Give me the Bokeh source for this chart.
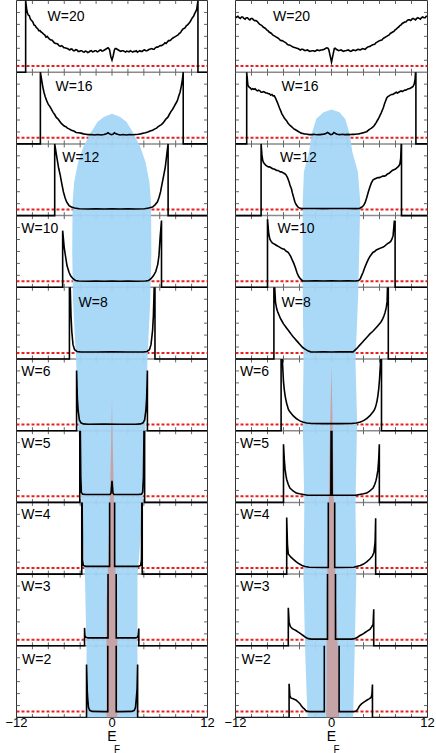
import math
from bokeh.plotting import figure
from bokeh.models import Range1d, FixedTicker, Title
from bokeh.layouts import row
from bokeh.embed import file_html
from bokeh.resources import INLINE
from bokeh.core.properties import value

# ---------------- data ----------------
W_VALUES = [20, 16, 12, 10, 8, 6, 5, 4, 3, 2]
X_TICKS = [-12, 0, 12]
X_MINOR = [-10, -8, -6, -4, -2, 0, 2, 4, 6, 8, 10]
Y_MINOR = [1/6, 2/6, 3/6, 4/6, 5/6]
RED_LEVEL = 0.085

LEFT_W20 = [(-12,0),(-10.85,0),(-10.85,1.0),(-10.7,0.86),(-10.55,0.8),(-10.4,0.79),(-10.25,0.74),(-10.1,0.72),(-9.95,0.7),(-9.8,0.66),(-9.65,0.65),(-9.5,0.62),(-9.35,0.61),(-9.2,0.58),(-9.05,0.58),(-8.9,0.56),(-8.75,0.55),(-8.6,0.53),(-8.45,0.52),(-8.3,0.49),(-8.15,0.5),(-8.0,0.48),(-7.85,0.46),(-7.7,0.45),(-7.55,0.45),(-7.4,0.43),(-7.25,0.41),(-7.1,0.40),(-6.95,0.40),(-6.8,0.39),(-6.65,0.37),(-6.5,0.36),(-6.35,0.37),(-6.2,0.36),(-6.05,0.34),(-5.9,0.34),(-5.75,0.335),(-5.6,0.33),(-5.45,0.32),(-5.3,0.31),(-5.15,0.325),(-5.0,0.32),(-4.85,0.3),(-4.7,0.30),(-4.55,0.315),(-4.4,0.31),(-4.25,0.29),(-4.1,0.29),(-3.95,0.3),(-3.8,0.30),(-3.65,0.285),(-3.5,0.28),(-3.35,0.295),(-3.2,0.29),(-3.05,0.275),(-2.9,0.28),(-2.75,0.295),(-2.6,0.30),(-2.45,0.285),(-2.3,0.29),(-2.15,0.3),(-2.0,0.30),(-1.85,0.285),(-1.7,0.29),(-1.55,0.305),(-1.4,0.31),(-1.25,0.295),(-1.1,0.30),(-0.95,0.31),(-0.8,0.32),(-0.65,0.33),(-0.5,0.34),(-0.4,0.33),(-0.3,0.31),(-0.15,0.22),(0,0.17),(0.15,0.23),(0.3,0.31),(0.4,0.33),(0.5,0.33),(0.65,0.32),(0.8,0.31),(0.95,0.3),(1.1,0.29),(1.25,0.3),(1.4,0.30),(1.55,0.29),(1.7,0.28),(1.85,0.295),(2.0,0.29),(2.15,0.285),(2.3,0.30),(2.45,0.29),(2.6,0.28),(2.75,0.29),(2.9,0.29),(3.05,0.3),(3.2,0.28),(3.35,0.29),(3.5,0.30),(3.65,0.29),(3.8,0.29),(3.95,0.305),(4.1,0.31),(4.25,0.3),(4.4,0.30),(4.55,0.31),(4.7,0.32),(4.85,0.325),(5.0,0.33),(5.15,0.32),(5.3,0.32),(5.45,0.34),(5.6,0.35),(5.75,0.35),(5.9,0.36),(6.05,0.37),(6.2,0.37),(6.35,0.38),(6.5,0.39),(6.65,0.41),(6.8,0.40),(6.95,0.42),(7.1,0.44),(7.25,0.44),(7.4,0.45),(7.55,0.47),(7.7,0.48),(7.85,0.49),(8.0,0.50),(8.15,0.51),(8.3,0.52),(8.45,0.54),(8.6,0.55),(8.75,0.58),(8.9,0.60),(9.05,0.61),(9.2,0.62),(9.35,0.65),(9.5,0.66),(9.65,0.68),(9.8,0.70),(9.95,0.73),(10.1,0.76),(10.25,0.78),(10.4,0.82),(10.55,0.85),(10.65,0.88),(10.8,1.0),(10.8,0),(12,0)]
LEFT_W16 = [(-12,0),(-9.0,0),(-9.0,1.0),(-8.85,0.9),(-8.7,0.8),(-8.55,0.72),(-8.4,0.66),(-8.2,0.6),(-8.0,0.55),(-7.8,0.52),(-7.6,0.48),(-7.4,0.44),(-7.2,0.41),(-7.0,0.37),(-6.8,0.35),(-6.6,0.32),(-6.4,0.29),(-6.2,0.27),(-6.0,0.25),(-5.8,0.24),(-5.6,0.22),(-5.4,0.21),(-5.1,0.19),(-4.8,0.18),(-4.5,0.16),(-4.2,0.155),(-3.9,0.15),(-3.6,0.14),(-3.3,0.135),(-3.0,0.13),(-2.6,0.132),(-2.2,0.125),(-1.8,0.13),(-1.4,0.125),(-1.0,0.13),(-0.7,0.14),(-0.5,0.155),(-0.3,0.14),(-0.1,0.13),(0.1,0.135),(0.3,0.155),(0.5,0.14),(0.7,0.135),(1.0,0.125),(1.4,0.13),(1.8,0.125),(2.2,0.13),(2.6,0.128),(3.0,0.132),(3.3,0.135),(3.6,0.14),(3.9,0.148),(4.2,0.155),(4.5,0.165),(4.8,0.18),(5.1,0.19),(5.4,0.21),(5.6,0.22),(5.8,0.24),(6.0,0.255),(6.2,0.27),(6.4,0.29),(6.6,0.32),(6.8,0.35),(7.0,0.37),(7.2,0.41),(7.4,0.45),(7.6,0.48),(7.8,0.52),(8.0,0.56),(8.2,0.6),(8.4,0.67),(8.55,0.72),(8.7,0.8),(8.85,0.9),(8.95,1.0),(8.95,0),(12,0)]
LEFT_W12 = [(-12,0),(-7.2,0),(-7.2,1.0),(-6.9,0.79),(-6.7,0.66),(-6.5,0.56),(-6.3,0.44),(-6.1,0.33),(-5.9,0.25),(-5.7,0.19),(-5.4,0.14),(-5.1,0.12),(-4.7,0.105),(-4.1,0.095),(-3,0.093),(-2,0.096),(-1,0.092),(0,0.095),(1,0.093),(2,0.096),(3,0.092),(4.1,0.095),(4.6,0.105),(5.1,0.12),(5.4,0.15),(5.7,0.19),(5.9,0.25),(6.1,0.33),(6.3,0.45),(6.5,0.56),(6.7,0.68),(6.9,0.87),(7.05,1.0),(7.05,0),(12,0)]
LEFT_W10 = [(-12,0),(-6.2,0),(-6.2,0.79),(-6.0,0.55),(-5.85,0.44),(-5.65,0.30),(-5.4,0.21),(-5.2,0.16),(-4.9,0.12),(-4.6,0.095),(-4.2,0.088),(-3,0.085),(-2,0.087),(-1,0.085),(0,0.086),(1,0.085),(2,0.087),(3,0.085),(4.2,0.088),(4.6,0.095),(4.9,0.12),(5.2,0.16),(5.5,0.22),(5.75,0.32),(5.9,0.44),(6.05,0.7),(6.22,0.93),(6.22,0),(12,0)]
LEFT_W8 = [(-12,0),(-5.35,0),(-5.35,1.0),(-5.25,1.0),(-5.15,0.6),(-5.05,0.38),(-4.9,0.2),(-4.7,0.13),(-4.4,0.105),(-4.0,0.1),(-2,0.098),(0,0.1),(2,0.098),(4.0,0.1),(4.4,0.105),(4.7,0.13),(4.9,0.2),(5.1,0.4),(5.2,0.6),(5.3,1.0),(5.4,1.0),(5.4,0),(12,0)]
LEFT_W6 = [(-12,0),(-4.45,0),(-4.45,0.84),(-4.35,0.45),(-4.25,0.28),(-4.1,0.15),(-3.9,0.11),(-3.6,0.095),(-3,0.09),(-1,0.092),(1,0.09),(3,0.09),(3.6,0.095),(3.9,0.11),(4.1,0.15),(4.25,0.28),(4.35,0.45),(4.45,0.84),(4.45,0),(12,0)]
LEFT_W5 = [(-12,0),(-4.05,0),(-4.05,1.0),(-3.98,1.0),(-3.92,0.35),(-3.85,0.14),(-3.7,0.115),(-3.3,0.11),(-1,0.11),(-0.25,0.11),(-0.12,0.13),(0,0.30),(0.12,0.13),(0.25,0.11),(1,0.11),(3.3,0.11),(3.7,0.115),(3.85,0.14),(3.95,0.35),(4.02,1.0),(4.1,1.0),(4.1,0),(12,0)]
LEFT_W4 = [(-12,0),(-3.8,0),(-3.8,1.0),(-3.75,1.0),(-3.7,0.2),(-3.6,0.12),(-3.3,0.108),(-1,0.108),(-0.3,0.108),(-0.3,1.0),(0.33,1.0),(0.33,0.108),(1,0.108),(3.3,0.108),(3.6,0.12),(3.7,0.2),(3.75,1.0),(3.8,1.0),(3.8,0),(12,0)]
LEFT_W3 = [(-12,0),(-3.45,0),(-3.45,0.25),(-3.4,0.14),(-3.3,0.12),(-3.0,0.11),(-0.5,0.11),(-0.5,1.0),(0.53,1.0),(0.53,0.11),(3.0,0.11),(3.2,0.12),(3.3,0.15),(3.37,0.24),(3.37,0),(12,0)]
LEFT_W2 = [(-12,0),(-3.2,0),(-3.2,0.74),(-3.1,0.35),(-3.05,0.26),(-2.95,0.14),(-2.8,0.1),(-2.5,0.085),(-1,0.082),(-0.53,0.082),(-0.53,1.0),(0.53,1.0),(0.53,0.082),(1,0.082),(2.5,0.085),(2.8,0.1),(2.95,0.14),(3.05,0.26),(3.15,0.4),(3.22,0.74),(3.22,0),(12,0)]

RIGHT_W20 = [(-12.0,0.76),(-11.85,0.77),(-11.7,0.78),(-11.55,0.76),(-11.4,0.75),(-11.25,0.77),(-11.1,0.77),(-10.95,0.75),(-10.8,0.74),(-10.65,0.76),(-10.5,0.76),(-10.35,0.74),(-10.2,0.73),(-10.05,0.75),(-9.9,0.75),(-9.75,0.73),(-9.6,0.72),(-9.45,0.72),(-9.3,0.71),(-9.15,0.69),(-9.0,0.67),(-8.85,0.66),(-8.7,0.65),(-8.55,0.63),(-8.4,0.62),(-8.25,0.61),(-8.1,0.59),(-7.95,0.58),(-7.8,0.56),(-7.65,0.55),(-7.5,0.54),(-7.35,0.52),(-7.2,0.51),(-7.05,0.5),(-6.9,0.49),(-6.75,0.48),(-6.6,0.47),(-6.45,0.45),(-6.3,0.44),(-6.15,0.44),(-6.0,0.43),(-5.85,0.42),(-5.7,0.41),(-5.55,0.39),(-5.4,0.38),(-5.25,0.38),(-5.1,0.37),(-4.95,0.36),(-4.8,0.35),(-4.65,0.345),(-4.5,0.34),(-4.35,0.335),(-4.2,0.33),(-4.05,0.32),(-3.9,0.31),(-3.75,0.32),(-3.6,0.32),(-3.45,0.31),(-3.3,0.30),(-3.15,0.305),(-3.0,0.31),(-2.85,0.3),(-2.7,0.29),(-2.55,0.295),(-2.4,0.30),(-2.25,0.3),(-2.1,0.29),(-1.95,0.3),(-1.8,0.31),(-1.65,0.305),(-1.5,0.30),(-1.35,0.31),(-1.2,0.31),(-1.05,0.315),(-0.9,0.32),(-0.75,0.33),(-0.6,0.34),(-0.45,0.335),(-0.35,0.32),(-0.15,0.22),(0,0.14),(0.15,0.22),(0.35,0.33),(0.45,0.335),(0.6,0.32),(0.75,0.31),(0.9,0.30),(1.05,0.305),(1.2,0.31),(1.35,0.3),(1.5,0.29),(1.65,0.3),(1.8,0.30),(1.95,0.305),(2.1,0.31),(2.25,0.3),(2.4,0.29),(2.55,0.3),(2.7,0.31),(2.85,0.305),(3.0,0.30),(3.15,0.31),(3.3,0.32),(3.45,0.315),(3.6,0.31),(3.75,0.32),(3.9,0.33),(4.05,0.325),(4.2,0.32),(4.35,0.335),(4.5,0.35),(4.65,0.355),(4.8,0.36),(4.95,0.37),(5.1,0.38),(5.25,0.385),(5.4,0.39),(5.55,0.41),(5.7,0.42),(5.85,0.43),(6.0,0.44),(6.15,0.445),(6.3,0.45),(6.45,0.47),(6.6,0.48),(6.75,0.49),(6.9,0.50),(7.05,0.51),(7.2,0.52),(7.35,0.54),(7.5,0.55),(7.65,0.56),(7.8,0.57),(7.95,0.59),(8.1,0.60),(8.25,0.62),(8.4,0.63),(8.55,0.65),(8.7,0.66),(8.85,0.68),(9.0,0.69),(9.15,0.7),(9.3,0.70),(9.45,0.72),(9.6,0.73),(9.75,0.73),(9.9,0.72),(10.05,0.74),(10.2,0.75),(10.35,0.74),(10.5,0.73),(10.65,0.75),(10.8,0.76),(10.95,0.75),(11.1,0.74),(11.25,0.76),(11.4,0.77),(11.55,0.76),(11.7,0.76),(11.85,0.78),(12.0,0.78)]
RIGHT_W16 = [(-12,0),(-10.6,0),(-10.6,1.0),(-10.45,0.82),(-10.3,0.79),(-10.15,0.78),(-10.0,0.76),(-9.85,0.77),(-9.7,0.76),(-9.55,0.77),(-9.4,0.75),(-9.25,0.74),(-9.1,0.75),(-8.95,0.74),(-8.8,0.72),(-8.65,0.72),(-8.5,0.73),(-8.35,0.72),(-8.2,0.71),(-8.05,0.71),(-7.9,0.70),(-7.75,0.70),(-7.6,0.68),(-7.45,0.69),(-7.3,0.67),(-7.15,0.67),(-7.0,0.64),(-6.85,0.6),(-6.7,0.56),(-6.5,0.5),(-6.35,0.46),(-6.2,0.42),(-6.05,0.39),(-5.9,0.36),(-5.75,0.34),(-5.6,0.32),(-5.45,0.29),(-5.3,0.27),(-5.15,0.255),(-5.0,0.24),(-4.85,0.225),(-4.7,0.21),(-4.55,0.2),(-4.4,0.19),(-4.25,0.18),(-4.1,0.17),(-3.95,0.16),(-3.8,0.15),(-3.6,0.145),(-3.4,0.14),(-3.2,0.138),(-3.0,0.135),(-2.8,0.13),(-2.6,0.132),(-2.4,0.13),(-2.2,0.135),(-2.0,0.13),(-1.8,0.128),(-1.6,0.132),(-1.4,0.13),(-1.2,0.133),(-1.0,0.135),(-0.85,0.14),(-0.7,0.145),(-0.5,0.16),(-0.3,0.145),(-0.1,0.13),(0.1,0.135),(0.3,0.16),(0.5,0.145),(0.7,0.135),(0.85,0.132),(1.0,0.13),(1.2,0.132),(1.4,0.135),(1.6,0.13),(1.8,0.13),(2.0,0.133),(2.2,0.13),(2.4,0.132),(2.6,0.135),(2.8,0.133),(3.0,0.135),(3.2,0.138),(3.4,0.14),(3.6,0.145),(3.8,0.15),(3.95,0.155),(4.1,0.16),(4.25,0.165),(4.4,0.17),(4.55,0.185),(4.7,0.2),(4.85,0.21),(5.0,0.22),(5.15,0.235),(5.3,0.25),(5.45,0.275),(5.6,0.3),(5.75,0.33),(5.9,0.36),(6.05,0.395),(6.2,0.43),(6.35,0.47),(6.5,0.51),(6.6,0.55),(6.7,0.58),(6.8,0.61),(6.9,0.64),(7.05,0.66),(7.2,0.67),(7.35,0.68),(7.5,0.69),(7.65,0.69),(7.8,0.7),(7.95,0.71),(8.1,0.72),(8.25,0.71),(8.4,0.72),(8.55,0.73),(8.7,0.74),(8.85,0.73),(9.0,0.74),(9.15,0.75),(9.3,0.75),(9.45,0.76),(9.6,0.77),(9.75,0.77),(9.9,0.78),(10.05,0.79),(10.2,0.8),(10.35,0.84),(10.45,0.9),(10.5,1.0),(10.55,1.0),(10.55,0),(12,0)]
RIGHT_W12 = [(-12,0),(-8.8,0),(-8.8,1.0),(-8.7,0.85),(-8.6,0.77),(-8.5,0.74),(-8.35,0.72),(-8.2,0.7),(-8.05,0.69),(-7.9,0.68),(-7.75,0.68),(-7.6,0.67),(-7.45,0.66),(-7.3,0.65),(-7.15,0.65),(-7.0,0.64),(-6.85,0.63),(-6.7,0.63),(-6.55,0.62),(-6.4,0.61),(-6.25,0.61),(-6.1,0.6),(-5.95,0.59),(-5.8,0.58),(-5.7,0.57),(-5.6,0.55),(-5.5,0.53),(-5.4,0.5),(-5.3,0.47),(-5.2,0.43),(-5.1,0.4),(-5.0,0.37),(-4.9,0.32),(-4.8,0.28),(-4.7,0.24),(-4.6,0.2),(-4.5,0.17),(-4.4,0.15),(-4.2,0.12),(-4.0,0.105),(-3.7,0.1),(-3,0.098),(-2,0.1),(-1,0.097),(0,0.1),(1,0.098),(2,0.1),(3,0.097),(3.5,0.1),(3.8,0.12),(4.0,0.14),(4.2,0.18),(4.4,0.25),(4.6,0.33),(4.8,0.4),(5.0,0.46),(5.2,0.5),(5.4,0.51),(5.6,0.52),(5.8,0.53),(6.0,0.53),(6.2,0.54),(6.4,0.55),(6.6,0.55),(6.8,0.56),(7.0,0.58),(7.2,0.59),(7.4,0.61),(7.6,0.63),(7.8,0.64),(8.0,0.65),(8.2,0.67),(8.4,0.69),(8.55,0.72),(8.65,0.8),(8.72,1.0),(8.75,1.0),(8.75,0),(12,0)]
RIGHT_W10 = [(-12,0),(-8.0,0),(-8.0,0.95),(-7.85,0.75),(-7.7,0.67),(-7.55,0.64),(-7.4,0.62),(-7.25,0.61),(-7.1,0.6),(-6.95,0.59),(-6.8,0.58),(-6.65,0.57),(-6.5,0.56),(-6.35,0.55),(-6.2,0.54),(-6.05,0.535),(-5.9,0.53),(-5.75,0.51),(-5.6,0.5),(-5.45,0.49),(-5.3,0.47),(-5.2,0.45),(-5.1,0.43),(-4.9,0.38),(-4.7,0.33),(-4.5,0.27),(-4.3,0.2),(-4.1,0.15),(-3.9,0.12),(-3.6,0.09),(-3,0.088),(-2,0.09),(-1,0.087),(0,0.09),(1,0.088),(2,0.09),(3,0.088),(3.4,0.095),(3.6,0.12),(3.75,0.16),(3.95,0.21),(4.1,0.26),(4.25,0.3),(4.4,0.34),(4.6,0.39),(4.8,0.43),(5.0,0.46),(5.2,0.49),(5.4,0.5),(5.6,0.52),(5.8,0.53),(6.0,0.54),(6.2,0.55),(6.4,0.56),(6.6,0.57),(6.8,0.59),(7.0,0.61),(7.2,0.62),(7.4,0.64),(7.55,0.67),(7.7,0.72),(7.85,0.92),(7.95,0.92),(7.95,0),(12,0)]
RIGHT_W8 = [(-12,0),(-7.2,0),(-7.2,1.0),(-7.1,1.0),(-7.0,0.79),(-6.85,0.7),(-6.7,0.65),(-6.55,0.61),(-6.4,0.57),(-6.2,0.53),(-6.0,0.49),(-5.8,0.46),(-5.6,0.43),(-5.4,0.4),(-5.2,0.37),(-5.0,0.34),(-4.8,0.31),(-4.6,0.285),(-4.4,0.26),(-4.2,0.235),(-4.0,0.21),(-3.8,0.185),(-3.6,0.16),(-3.4,0.145),(-3.2,0.13),(-2.9,0.11),(-2.6,0.1),(-2,0.098),(-1,0.1),(0,0.098),(1,0.1),(2,0.1),(2.7,0.1),(2.9,0.12),(3.1,0.14),(3.3,0.165),(3.5,0.19),(3.75,0.22),(4.0,0.25),(4.2,0.275),(4.4,0.3),(4.6,0.325),(4.8,0.35),(5.0,0.37),(5.2,0.39),(5.4,0.415),(5.6,0.44),(5.8,0.465),(6.0,0.49),(6.2,0.52),(6.4,0.56),(6.55,0.6),(6.7,0.65),(6.85,0.72),(6.95,0.8),(7.0,1.0),(7.1,1.0),(7.1,0),(12,0)]
RIGHT_W6 = [(-12,0),(-6.3,0),(-6.3,1.0),(-6.15,1.0),(-6.0,0.68),(-5.9,0.57),(-5.8,0.49),(-5.7,0.43),(-5.6,0.38),(-5.5,0.34),(-5.4,0.3),(-5.25,0.27),(-5.1,0.25),(-4.95,0.23),(-4.8,0.21),(-4.6,0.19),(-4.4,0.17),(-4.2,0.155),(-4.0,0.14),(-3.8,0.13),(-3.6,0.12),(-3.1,0.108),(-2.5,0.1),(-1,0.098),(0,0.1),(1,0.098),(2.5,0.1),(3.1,0.108),(3.6,0.12),(3.8,0.13),(4.0,0.14),(4.2,0.155),(4.4,0.17),(4.6,0.19),(4.8,0.21),(4.95,0.23),(5.1,0.25),(5.25,0.27),(5.4,0.3),(5.5,0.33),(5.6,0.37),(5.7,0.42),(5.8,0.49),(5.9,0.58),(6.0,0.71),(6.15,1.0),(6.25,1.0),(6.25,0),(12,0)]
RIGHT_W5 = [(-12,0),(-6.0,0),(-6.0,0.81),(-5.9,0.6),(-5.8,0.46),(-5.7,0.38),(-5.6,0.32),(-5.4,0.25),(-5.2,0.2),(-5.0,0.18),(-4.8,0.16),(-4.4,0.13),(-4.0,0.12),(-3.5,0.11),(-3,0.1),(-1,0.1),(-0.08,0.1),(-0.05,1.0),(0.05,1.0),(0.08,0.1),(1,0.1),(3,0.1),(3.5,0.11),(4.0,0.12),(4.4,0.13),(4.8,0.16),(5.0,0.18),(5.2,0.2),(5.4,0.25),(5.55,0.3),(5.65,0.35),(5.8,0.45),(5.9,0.6),(5.98,0.81),(5.98,0),(12,0)]
RIGHT_W4 = [(-12,0),(-5.6,0),(-5.6,0.79),(-5.5,0.4),(-5.4,0.28),(-5.25,0.26),(-5.1,0.24),(-4.8,0.21),(-4.4,0.17),(-4.0,0.14),(-3.6,0.115),(-3.3,0.105),(-2.8,0.095),(-1,0.093),(-0.4,0.093),(-0.4,1.0),(0.4,1.0),(0.4,0.093),(1,0.093),(2.8,0.095),(3.1,0.105),(3.6,0.12),(4.0,0.14),(4.4,0.17),(4.8,0.21),(5.1,0.25),(5.3,0.3),(5.45,0.45),(5.52,0.78),(5.52,0),(12,0)]
RIGHT_W3 = [(-12,0),(-5.4,0),(-5.4,0.53),(-5.3,0.33),(-5.15,0.27),(-4.9,0.24),(-4.65,0.225),(-4.4,0.21),(-4.2,0.195),(-4.0,0.18),(-3.75,0.16),(-3.5,0.14),(-3.2,0.115),(-2.9,0.1),(-2.5,0.093),(-0.5,0.093),(-0.5,1.0),(0.5,1.0),(0.5,0.093),(2.5,0.093),(2.9,0.1),(3.2,0.115),(3.5,0.14),(3.75,0.155),(4.0,0.17),(4.2,0.185),(4.4,0.2),(4.6,0.215),(4.8,0.23),(5.0,0.26),(5.2,0.3),(5.28,0.51),(5.28,0),(12,0)]
RIGHT_W2 = [(-12,0),(-5.3,0),(-5.3,0.47),(-5.2,0.3),(-5.05,0.27),(-4.8,0.26),(-4.6,0.25),(-4.4,0.24),(-4.2,0.22),(-4.0,0.2),(-3.75,0.16),(-3.55,0.135),(-3.4,0.12),(-3.25,0.1),(-3.1,0.09),(-2.8,0.082),(-0.9,0.082),(-0.9,1.0),(0.95,1.0),(0.95,0.082),(2.8,0.082),(3.1,0.09),(3.3,0.12),(3.5,0.16),(3.75,0.19),(4.0,0.21),(4.2,0.225),(4.4,0.24),(4.7,0.26),(4.95,0.28),(5.05,0.32),(5.12,0.46),(5.12,0),(12,0)]

LEFT_CURVES = [LEFT_W20, LEFT_W16, LEFT_W12, LEFT_W10, LEFT_W8, LEFT_W6, LEFT_W5, LEFT_W4, LEFT_W3, LEFT_W2]
RIGHT_CURVES = [RIGHT_W20, RIGHT_W16, RIGHT_W12, RIGHT_W10, RIGHT_W8, RIGHT_W6, RIGHT_W5, RIGHT_W4, RIGHT_W3, RIGHT_W2]

# shaded regions: height in stacked panel units (0 = bottom of W=2 panel), left and right edge
LEFT_BLOB_G  = [0.0, 0.96, 1.96, 2.96, 3.72, 3.96, 4.96, 5.81, 6.5, 7.19, 7.47, 7.75, 7.96, 8.17, 8.31, 8.38, 8.42]
LEFT_BLOB_XL = [-3.2, -3.2, -3.4, -3.85, -4.0, -4.2, -4.5, -4.9, -5.0, -4.95, -4.75, -4.25, -3.6, -2.6, -1.8, -1.0, 0.0]
LEFT_BLOB_XR = [3.2, 3.2, 3.2, 3.9, 4.0, 4.2, 4.45, 4.8, 4.95, 4.9, 4.7, 4.2, 3.55, 2.6, 1.8, 1.0, 0.0]
RIGHT_BLOB_G  = [0.0, 0.94, 1.96, 2.96, 4.14, 4.96, 5.94, 7.19, 7.61, 7.89, 8.13, 8.35, 8.44, 8.48]
RIGHT_BLOB_XL = [-3.0, -3.3, -3.5, -3.4, -3.6, -3.5, -3.6, -3.6, -3.45, -2.8, -2.5, -1.9, -1.0, 0.0]
RIGHT_BLOB_XR = [2.7, 2.9, 3.1, 3.0, 3.2, 3.0, 3.35, 3.6, 3.3, 2.6, 2.3, 1.7, 1.0, 0.0]
LEFT_PINK_G  = [0.0, 1.0, 1.64, 1.99, 2.5, 3.26, 3.9, 4.45]
LEFT_PINK_XL = [-0.7, -0.7, -0.68, -0.53, -0.4, -0.22, -0.1, 0.0]
LEFT_PINK_XR = [0.68, 0.68, 0.65, 0.45, 0.35, 0.2, 0.08, 0.0]
RIGHT_PINK_G  = [0.0, 0.94, 1.64, 2.96, 3.72, 4.9]
RIGHT_PINK_XL = [-0.65, -0.6, -0.6, -0.35, -0.25, 0.0]
RIGHT_PINK_XR = [0.95, 0.8, 0.55, 0.3, 0.2, 0.0]

# label x positions (data units) and distance below the panel top (panel units)
LEFT_LABEL_X = [-8.1, -7.1, -6.25, -11.4, -4.2, -11.4, -11.4, -11.4, -11.4, -11.3]
RIGHT_LABEL_X = [-7.3, -6.25, -6.45, -6.75, -6.25, -11.45, -11.45, -11.4, -11.4, -11.25]
LABEL_DROP = [0.22, 0.19, 0.18, 0.17, 0.2, 0.17, 0.17, 0.16, 0.17, 0.18]

# ---------------- style ----------------
FONT = "Liberation Sans"
BLOB_COLOR = "#a4d6f8"
PINK_COLOR = "#c6a0a1"
N = len(W_VALUES)
TOTAL_H = 753
FRAME_H = 715  # approximate, used for tick lengths only


def split_top(points, base):
    xs, ys = [], []
    prev_top = False
    for x, y in points:
        top = y >= 0.999
        if top and prev_top:
            xs.append(float("nan"))
            ys.append(float("nan"))
        xs.append(x)
        ys.append(y + base)
        prev_top = top
    return xs, ys


def make_column(curves, bg, bxl, bxr, pg, pxl, pxr, label_x, width, bl, br):
    frame_w = width - bl - br
    p = figure(width=width, height=TOTAL_H, x_range=Range1d(-12, 12), y_range=Range1d(0, N),
               output_backend="svg", toolbar_location=None, y_axis_location=None,
               min_border_left=bl, min_border_right=br, min_border_top=0, min_border_bottom=0)
    p.grid.visible = False
    p.outline_line_color = "#333333"
    p.outline_line_width = 1
    p.background_fill_color = "white"
    p.border_fill_color = "white"

    ax = p.xaxis[0]
    ax.ticker = FixedTicker(ticks=X_TICKS)
    ax.major_label_overrides = {-12: "\u221212", 0: "0", 12: "12"}
    ax.axis_line_color = None
    ax.major_tick_line_color = None
    ax.minor_tick_line_color = None
    ax.major_tick_out = 0
    ax.major_tick_in = 0
    ax.major_label_standoff = 0
    ax.major_label_text_font = FONT
    ax.major_label_text_font_size = "13px"
    ax.major_label_text_color = "black"
    ax.axis_label = "E"
    ax.axis_label_text_font = FONT
    ax.axis_label_text_font_style = "normal"
    ax.axis_label_text_font_size = "14px"
    ax.axis_label_text_color = "black"
    ax.axis_label_standoff = -2

    sub = Title(text="F", align="left", vertical_align="top", offset=frame_w / 2 + 2,
                text_font=FONT, text_font_size="10px", text_font_style="normal",
                text_color="black", standoff=-6)
    p.add_layout(sub, "below")

    # red dotted reference lines
    p.segment(x0=[-12] * N, x1=[12] * N, y0=[k + RED_LEVEL for k in range(N)],
              y1=[k + RED_LEVEL for k in range(N)], line_color="#e8201f", line_width=2,
              line_dash="3 2")
    # panel separators
    p.segment(x0=[-12] * (N - 1), x1=[12] * (N - 1), y0=list(range(1, N)), y1=list(range(1, N)),
              line_color="#8a8a8a", line_width=1.5)
    # inward ticks
    tly = 3.5 / (FRAME_H / N)
    tlx = 3.5 * 24.0 / frame_w
    x0, x1, y0, y1 = [], [], [], []
    for k in range(N):
        for xm in X_MINOR:
            x0 += [xm, xm]; x1 += [xm, xm]
            y0 += [k, k + 1]; y1 += [k + tly, k + 1 - tly]
        for ym in Y_MINOR:
            x0 += [-12, 12]; x1 += [-12 + tlx, 12 - tlx]
            y0 += [k + ym, k + ym]; y1 += [k + ym, k + ym]
    p.segment(x0=x0, x1=x1, y0=y0, y1=y1, line_color="#666666", line_width=1)

    # shaded blob and pink core
    p.patch(x=bxr + bxl[::-1], y=bg + bg[::-1], fill_color=BLOB_COLOR, fill_alpha=0.93, line_color=None)
    p.patch(x=pxr + pxl[::-1], y=pg + pg[::-1], fill_color=PINK_COLOR, fill_alpha=0.95, line_color=None)

    # curves
    for i, pts in enumerate(curves):
        base = N - 1 - i
        xs, ys = split_top(pts, base)
        p.line(xs, ys, line_color="black", line_width=1.6, line_join="miter")

    # panel labels
    ly = [N - i - LABEL_DROP[i] for i in range(N)]
    p.text(x=label_x, y=ly, text=["W=%d" % w for w in W_VALUES], text_font=value(FONT),
           text_font_size=value("14px"), text_baseline="middle", text_align="left", text_color="black")
    return p


left = make_column(LEFT_CURVES, LEFT_BLOB_G, LEFT_BLOB_XL, LEFT_BLOB_XR,
                   LEFT_PINK_G, LEFT_PINK_XL, LEFT_PINK_XR, LEFT_LABEL_X, 221, 16, 14)
right = make_column(RIGHT_CURVES, RIGHT_BLOB_G, RIGHT_BLOB_XL, RIGHT_BLOB_XR,
                    RIGHT_PINK_G, RIGHT_PINK_XL, RIGHT_PINK_XR, RIGHT_LABEL_X, 215, 14, 9)

layout = row(left, right)
open("out.html", "w").write(file_html(layout, INLINE))
